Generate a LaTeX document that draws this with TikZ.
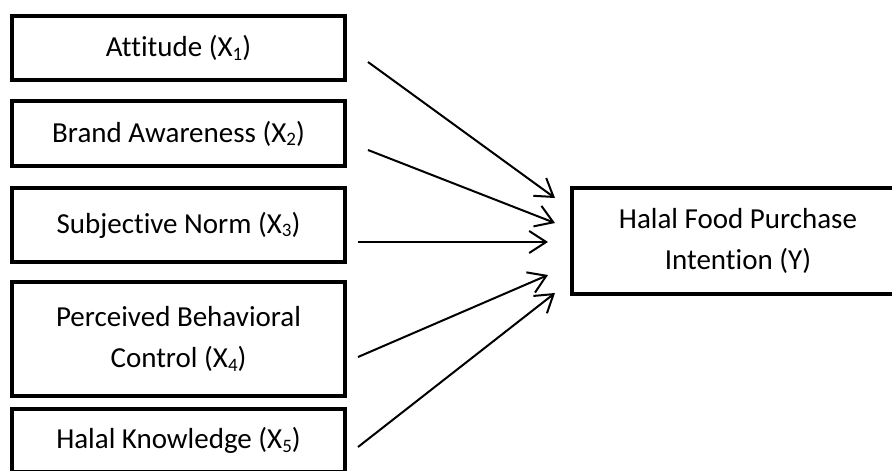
\documentclass[tikz,border=0pt]{standalone}
\usepackage{fontspec}
\setmainfont{Carlito}[Ligatures=CommonOff]
\usetikzlibrary{arrows.meta}
\newcommand{\sbs}[1]{\raisebox{-0.12em}{\fontsize{19}{19}\selectfont #1}}
\begin{document}
\begin{tikzpicture}[x=1pt,y=-1pt,
  varbox/.style={draw,line width=4pt,rectangle,inner sep=0pt,align=center,
    font=\fontsize{29}{41}\selectfont},
  link/.style={line width=2pt,-{Straight Barb[length=17pt,width=22pt,line width=2pt]}}]
\useasboundingbox (0,0) rectangle (892,471);
\clip (0,0) rectangle (892,471);
\node[varbox,minimum width=333pt,minimum height=64pt] (x1) at (178.5,48) {Attitude (X\sbs{1})};
\node[varbox,minimum width=333pt,minimum height=65pt] (x2) at (178.5,133.5) {Brand Awareness (X\sbs{2})};
\node[varbox,minimum width=333pt,minimum height=74pt] (x3) at (178.5,225) {Subjective Norm (X\sbs{3})};
\node[varbox,minimum width=333pt,minimum height=114pt] (x4) at (178.5,339) {Perceived Behavioral\\Control (X\sbs{4})};
\node[varbox,minimum width=333pt,minimum height=63pt] (x5) at (178.5,440.5) {Halal Knowledge (X\sbs{5})};
\node[varbox,minimum width=332pt,minimum height=106pt] (y) at (738,241) {Halal Food Purchase\\Intention (Y)};
\coordinate (s1) at (368,62);
\coordinate (e1) at (555,198);
\coordinate (s2) at (368,150);
\coordinate (e2) at (555,223);
\coordinate (s3) at (358,242);
\coordinate (e3) at (548,242);
\coordinate (s4) at (358,357);
\coordinate (e4) at (548,275);
\coordinate (s5) at (358,447);
\coordinate (e5) at (555,293);
\draw[link] (s1) -- (e1);
\draw[link] (s2) -- (e2);
\draw[link] (s3) -- (e3);
\draw[link] (s4) -- (e4);
\draw[link] (s5) -- (e5);
\end{tikzpicture}
\end{document}
